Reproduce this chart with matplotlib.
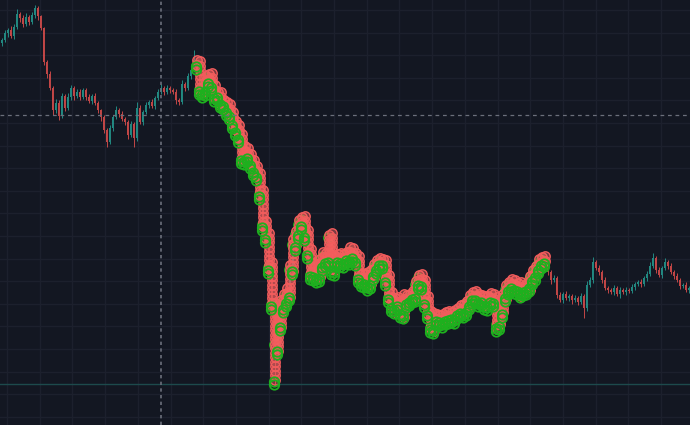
import numpy as np
import matplotlib
matplotlib.use("Agg")
import matplotlib.pyplot as plt

# ---- data (price units, one candle every 3 px of time axis) ----
first_open = 382
close = [
    385, 392, 395, 389, 398, 411, 407, 401, 408, 403, 410, 417, 409, 397,
    363, 351, 337, 315, 322, 309,
    329, 317, 328, 337, 329, 333, 328, 335, 328, 324,
    329, 322, 315, 308, 295, 283, 297, 308, 315, 311,
    306, 303, 290, 301, 287, 317, 303, 313, 320, 323,
    319, 327, 333, 337, 333, 337, 335, 333, 325, 323,
    341, 337, 349, 355, 365,
    359, 335, 333, 343, 347, 337, 329, 328, 322, 319, 315, 310, 300, 295, 287, 265, 273,
    268, 260, 255, 249, 230, 200, 187, 157, 120, 80, 100, 120, 125, 130, 155, 180, 190, 200,
    205, 190, 170, 150, 157, 147, 160, 168, 163, 187, 155, 163, 167, 163, 167, 165, 173, 167, 165, 147,
    142, 147, 140, 150, 157, 160, 163, 161, 145, 127, 117, 123, 120, 111, 125, 123, 127, 129, 140, 147,
    140, 123, 110, 97, 107, 105, 103, 107, 105, 109, 107, 110, 113, 115, 113, 120, 125, 129, 127, 123,
    125, 120, 123, 127, 123, 100, 113, 127, 135, 139, 141, 135, 137, 133, 135, 137, 145, 150, 155, 161, 165, 162,
    153, 145, 147, 130, 125, 131, 127, 129, 125, 127, 123, 129, 117, 140, 145, 163, 157, 153,
    145, 137, 135, 133, 137, 131, 135, 133, 135, 134, 138, 141, 143, 141, 147, 151, 159, 167, 155, 150,
    157, 163, 159, 153, 149, 145, 139, 140, 135, 137,
]
upper_wick = [
    2, 3, 2, 4, 3, 5, 2, 3, 4, 2, 3, 3, 2, 1,
    1, 2, 3, 2, 4, 3,
    3, 2, 4, 3, 2, 3, 3, 2, 2, 3,
    2, 3, 2, 1, 2, 2, 3, 2, 4, 2,
    3, 2, 2, 3, 2, 6, 3, 2, 3, 2,
    3, 2, 3, 4, 2, 3, 2, 2, 3, 2,
    4, 2, 3, 3, 10,
    0, 5, 3, 6, 4, 5, 3, 4, 5, 3, 4, 6, 3, 4, 5, 4, 6,
    4, 3, 5, 4, 3, 5, 4, 5, 6, 2, 15, 5, 6, 7, 5, 6, 4, 5,
    3, 4, 5, 6, 5, 4, 6, 5, 4, 3, 5, 6, 4, 5, 4, 6, 5, 4, 5, 4,
    5, 4, 6, 5, 4, 5, 4, 3, 4, 5, 6, 4, 5, 4, 6, 5, 4, 5, 4, 3,
    4, 5, 6, 4, 5, 4, 5, 4, 6, 5, 4, 5, 4, 5, 6, 4, 5, 4, 5, 4,
    5, 4, 6, 5, 4, 5, 6, 4, 5, 4, 5, 4, 5, 6, 4, 5, 4, 5, 4, 5, 3, 4,
    3, 2, 3, 2, 3, 2, 3, 2, 2, 3, 2, 3, 2, 4, 3, 5, 2, 3,
    2, 3, 2, 2, 3, 2, 3, 2, 3, 2, 3, 2, 2, 3, 2, 3, 4, 5, 2, 3,
    2, 4, 2, 3, 2, 3, 2, 2, 3, 2,
]
lower_wick = [
    3, 2, 4, 2, 3, 2, 4, 3, 2, 3, 2, 3, 4, 2,
    3, 4, 2, 5, 3, 4,
    2, 3, 2, 3, 4, 2, 3, 2, 3, 2,
    3, 2, 3, 4, 3, 5, 2, 3, 2, 3,
    2, 3, 4, 2, 9, 3, 2, 3, 2, 3,
    2, 3, 2, 2, 3, 2, 3, 2, 4, 3,
    2, 3, 2, 3, 2,
    4, 5, 6, 4, 5, 3, 6, 4, 5, 4, 6, 5, 4, 6, 5, 4, 5,
    5, 4, 6, 5, 5, 6, 5, 6, 5, 40, 10, 6, 8, 7, 6, 5, 6, 4,
    5, 6, 4, 5, 6, 5, 4, 6, 5, 4, 5, 6, 4, 5, 6, 4, 5, 4, 6, 5,
    4, 5, 6, 4, 5, 6, 4, 5, 6, 5, 4, 6, 5, 4, 5, 6, 4, 5, 6, 4,
    5, 6, 4, 5, 6, 5, 4, 6, 5, 4, 5, 6, 4, 5, 6, 4, 5, 4, 6, 5,
    4, 5, 6, 4, 5, 7, 5, 6, 4, 5, 6, 4, 5, 6, 4, 5, 4, 5, 6, 4, 5, 4,
    3, 4, 2, 3, 2, 3, 2, 3, 4, 2, 3, 2, 10, 3, 2, 3, 2, 3,
    3, 2, 3, 2, 3, 2, 4, 2, 3, 2, 2, 3, 2, 3, 2, 3, 2, 2, 3, 2,
    3, 2, 3, 2, 3, 2, 3, 2, 2, 3,
]
signal_start, signal_end = 65, 181   # candles carrying markers
crosshair_bar = 53
crosshair_price = 310
base_line_price = 41

# ---- derived OHLC ----
n = min(len(close), len(upper_wick), len(lower_wick))
close_a = np.array(close[:n], float)
open_a = np.concatenate([[first_open], close_a[:-1]])
high_a = np.maximum(open_a, close_a) + np.array(upper_wick[:n])
low_a = np.minimum(open_a, close_a) - np.array(lower_wick[:n])
xs = 1.5 + 3 * np.arange(n)

BG = "#131722"
UP = "#26a69a"
DN = "#ef5350"
MRED = "#f25c5c"
MGREEN = "#1eb01e"

fig = plt.figure(figsize=(6.9, 4.25), dpi=100, facecolor=BG)
ax = fig.add_axes([0, 0, 1, 1])
ax.set_facecolor(BG)
ax.set_xlim(0, 690)
ax.set_ylim(0, 425)

ax.set_xticks(np.arange(7, 690, 32.7))
ax.set_yticks(np.arange(415, 0, -22.6))
ax.grid(True, color="#1c202d", linewidth=1)
ax.tick_params(left=False, bottom=False, labelleft=False, labelbottom=False)
for s in ax.spines.values():
    s.set_visible(False)
ax.set_axisbelow(True)

# candles
for x, o, h, l, c in zip(xs, open_a, high_a, low_a, close_a):
    col = UP if c >= o else DN
    ax.vlines(x, l, h, color=col, linewidth=0.7, alpha=0.8, zorder=2)
    ax.bar(x, max(abs(c - o), 0.8), bottom=min(o, c), width=1.6,
           color=col, alpha=0.8, linewidth=0, zorder=2)

# signal markers
rx, ry, lx, ly, cx, cy = [], [], [], [], [], []
for i in range(signal_start, min(signal_end + 1, n)):
    lv = np.arange(high_a[i], low_a[i] + 2, -4.5)
    rx += [xs[i]] * len(lv)
    ry += list(lv)
    lx += [xs[i], xs[i]]
    ly += [low_a[i], low_a[i] + 3]
    cx.append(xs[i])
    cy.append(close_a[i])
ax.scatter(cx, cy, s=44, facecolors="none",
           edgecolors=MGREEN, linewidths=1.2, zorder=3)
ax.scatter(rx, ry, s=46, facecolors=(0.96, 0.38, 0.38, 0.45),
           edgecolors=MRED, linewidths=1.0, zorder=4)
ax.scatter(lx, ly, s=46, facecolors="none",
           edgecolors=MGREEN, linewidths=1.3, zorder=5)

# base line and crosshair
ax.axhline(base_line_price, color="#1d4a4c", linewidth=1, zorder=1)
ax.axvline(xs[crosshair_bar], color="#6b6f7b", linewidth=1.2,
           linestyle=(0, (2, 2)), zorder=6)
ax.axhline(crosshair_price, color="#6b6f7b", linewidth=0.9,
           linestyle=(0, (3, 3)), zorder=6)

fig.savefig("out.png", dpi=100, facecolor=BG)
